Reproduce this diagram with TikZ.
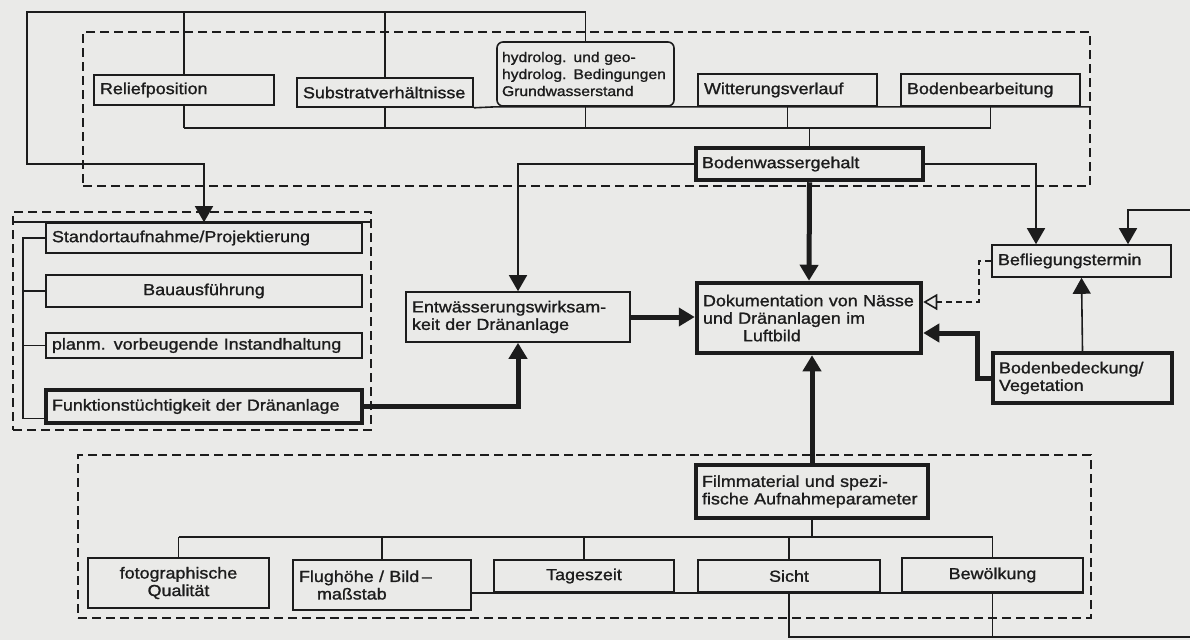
\documentclass[tikz,border=0pt]{standalone}
\usepackage{fontspec}
\setmainfont{Liberation Sans}[FakeStretch=1.12,FakeBold=1.2]
\usetikzlibrary{arrows.meta}
\definecolor{bg}{RGB}{234,234,232}
\definecolor{ink}{RGB}{28,28,28}
\newcommand\zl[1]{\mbox{#1}}
\begin{document}
\begin{tikzpicture}[x=1pt,y=-1pt,
  every node/.style={font=\fontsize{16}{17.5}\selectfont, text=ink},
  box/.style={draw=ink, line width=1.6pt, inner xsep=6pt, inner ysep=0pt, align=left},
  tbox/.style={box, line width=4.5pt},
  grp/.style={draw=ink, line width=1.5pt, dash pattern=on 9pt off 5pt, inner sep=0pt},
  conn/.style={draw=ink, line width=1.6pt},
  heavy/.style={draw=ink, line width=5pt},
  dsh/.style={draw=ink, line width=1.6pt, dash pattern=on 6pt off 4pt},
  tip/.style={-{Triangle[width=18pt,length=16pt]}},
  otip/.style={-{Triangle[open,width=16pt,length=14pt]}}
]
\fill[bg] (0,0) rectangle (1190,640);
\useasboundingbox (0,0) rectangle (1190,640);

% groups
\node[grp, minimum width=1007pt, minimum height=154pt] (topgrp) at (586.5,109) {};
\node[grp, minimum width=358pt, minimum height=218pt] (lgrp) at (192,321) {};
\node[grp, minimum width=1013pt, minimum height=163pt] (bgrp) at (584.5,536.5) {};

% top boxes
\node[box, minimum width=180pt, text width=168pt, minimum height=30pt] (relief) at (184,90) {Reliefposition};
\node[box, minimum width=176pt, text width=164pt, minimum height=29pt] (substrat) at (385,92.5) {\zl{Substratverhältnisse}};
\node[box, rounded corners=6pt, minimum width=177pt, text width=167pt, inner xsep=5pt, minimum height=64pt,
      font=\fontsize{14}{17}\selectfont] (hydro) at (585.5,74)
      {\zl{hydrolog. und geo-}\\\zl{hydrolog. Bedingungen}\\\zl{Grundwasserstand}};
\node[box, minimum width=179pt, text width=167pt, minimum height=32pt] (witterung) at (787.5,90) {Witterungsverlauf};
\node[box, minimum width=179pt, text width=167pt, minimum height=32pt] (bodenbearb) at (990.5,90) {Bodenbearbeitung};
\node[tbox, minimum width=227pt, text width=215pt, minimum height=32pt] (bw) at (809.5,164) {Bodenwassergehalt};

% middle
\node[box, minimum width=179pt, text width=167pt, minimum height=32pt] (befl) at (1081.5,261) {Befliegungstermin};
\node[tbox, minimum width=179pt, text width=167pt, minimum height=50pt] (bodenbed) at (1082.5,378) {\zl{Bodenbedeckung/}\\\zl{Vegetation}};
\node[tbox, minimum width=224pt, text width=212pt, minimum height=70pt] (dok) at (809,318)
      {\zl{Dokumentation von Nässe}\\\zl{und Dränanlagen im}\\\hspace*{40pt}Luftbild};
\node[box, minimum width=224pt, text width=212pt, minimum height=50pt] (entw) at (518,317)
      {\zl{Entwässerungswirksam-}\\\zl{keit der Dränanlage}};

% left boxes
\node[box, minimum width=316pt, text width=304pt, minimum height=30pt] (stand) at (204,238) {\zl{Standortaufnahme/Projektierung}};
\node[box, minimum width=316pt, text width=304pt, minimum height=32pt, align=center] (bau) at (204,291) {Bauausführung};
\node[box, minimum width=316pt, text width=304pt, minimum height=25pt] (planm) at (204,345.5) {\zl{planm. vorbeugende Instandhaltung}};
\node[tbox, minimum width=316pt, text width=304pt, minimum height=33pt] (funk) at (204,406.5) {\zl{Funktionstüchtigkeit der Dränanlage}};

% bottom boxes
\node[tbox, minimum width=232pt, text width=220pt, minimum height=53pt] (film) at (812,491.5)
      {\zl{Filmmaterial und spezi-}\\\zl{fische Aufnahmeparameter}};
\node[box, minimum width=181pt, text width=169pt, minimum height=50pt, align=center] (foto) at (178.5,583) {fotographische\\Qualität};
\node[box, minimum width=178pt, text width=166pt, minimum height=50pt] (flug) at (382,585) {\zl{Flughöhe / Bild\,–}\\\hspace*{18pt}maßstab};
\node[box, minimum width=180pt, text width=168pt, minimum height=32pt, align=center] (tages) at (584,576) {Tageszeit};
\node[box, minimum width=182pt, text width=170pt, minimum height=32pt, align=center] (sicht) at (789,576) {Sicht};
\node[box, minimum width=181pt, text width=169pt, minimum height=34pt, align=center] (bew) at (992.5,575) {Bewölkung};

% helper coordinates
\coordinate (bus) at (0,128);
\coordinate (tl) at (27,12);
\coordinate (lc) at (27,164);
\coordinate (rin) at (1190,210);
\coordinate (brk) at (23,0);
\coordinate (bus2) at (0,537);
\coordinate (rout) at (1190,637);

% top tree
\draw[conn] (relief.south |- bus) -- (bodenbearb.south |- bus);
\foreach \n in {relief,substrat,hydro,witterung,bodenbearb}
  \draw[conn] (\n.south) -- (\n.south |- bus);
\draw[conn] (bw.north) -- (bw.north |- bus);
\draw[conn] (substrat.south east) -- (hydro.south west) -- (hydro.south -| topgrp.east);

% outer loop
\draw[conn, tip] (hydro.north) |- (tl) -- (lc) -| (stand.north);
\draw[conn] (relief.north) -- (relief.north |- tl);
\draw[conn] (substrat.north) -- (substrat.north |- tl);

% middle connectors
\draw[conn, tip] (bw.west) -| (entw.north);
\draw[conn, tip] (bw.east) -| ([xshift=-45.5pt]befl.north);
\draw[conn, tip] (rin) -| ([xshift=46.5pt]befl.north);
\draw[heavy, tip] (bw.south) -- (dok.north);
\draw[heavy, tip] (entw.east) -- (entw.east -| dok.west);
\draw[dsh, otip] (befl.west) -- ++(-12,0) |- ([yshift=16pt]dok.east);
\draw[heavy, tip] (bodenbed.west) -- ++(-13,0) |- ([yshift=-15pt]dok.east);
\draw[conn, tip] (bodenbed.north) -- (befl.south);
\draw[heavy, tip] (film.north) -- (film.north |- dok.south);
\draw[heavy, tip] (funk.east) -| (entw.south);

% left group
\draw[conn] (lgrp.west |- stand.north) -- (lgrp.east |- stand.north);
\draw[conn] (stand.west) -- (stand.west -| brk) |- ([yshift=-12pt]funk.west);
\draw[conn] (bau.west) -- (bau.west -| brk);
\draw[conn] (planm.west) -- (planm.west -| brk);

% bottom tree
\draw[conn] (film.south) -- (film.south |- bus2);
\draw[conn] (foto.north |- bus2) -- (bew.north |- bus2);
\foreach \n in {foto,flug,tages,sicht,bew}
  \draw[conn] (\n.north) -- (\n.north |- bus2);
\draw[conn] (flug.east |- tages.south) -- (bew.south east);
\draw[conn] (sicht.south) |- (rout);
\draw[conn] (bew.south) -- (bew.south |- rout);
\end{tikzpicture}
\end{document}
